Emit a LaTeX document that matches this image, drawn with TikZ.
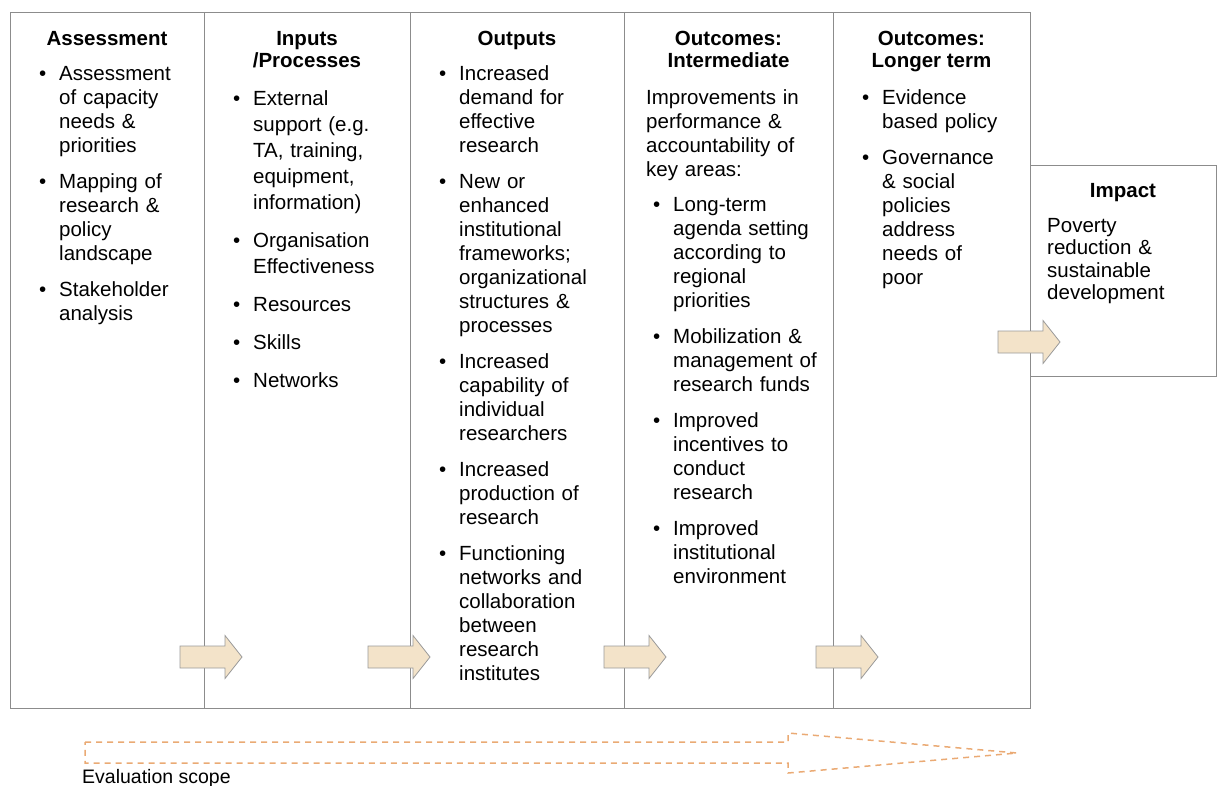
\documentclass[tikz,border=0pt]{standalone}
\usepackage{fontspec}
\setmainfont{Liberation Sans}
\usepackage{enumitem}
\usetikzlibrary{positioning}

\definecolor{linegray}{HTML}{8C8C8C}
\definecolor{arrowfill}{HTML}{F3E3C9}
\definecolor{arrowline}{HTML}{9A9A9A}
\definecolor{scopeorange}{HTML}{EAAA74}

\newcommand{\colfont}{\fontsize{20.5}{24}\selectfont}
\newcommand{\headfont}{\fontsize{20.5}{22}\selectfont\bfseries}
\setlist[itemize]{label=\textbullet, leftmargin=49pt, labelwidth=36pt,
  labelsep=13pt, align=right, itemsep=12pt, parsep=0pt, topsep=0pt, partopsep=0pt}

\begin{document}
\begin{tikzpicture}[x=1pt,y=-1pt,
colbox/.style={draw=linegray,line width=1.3pt,anchor=north west,minimum height=696pt,inner sep=0pt},
headtxt/.style={anchor=north,align=center,inner sep=0pt,font=\headfont},
listtxt/.style={anchor=north west,inner sep=0pt,text width=#1,align=left,font=\colfont},
fatarrow/.style={draw=arrowline,fill=arrowfill,line width=0.8pt,line join=miter},
evalarrow/.style={draw=scopeorange,line width=1.5pt,dash pattern=on 6pt off 5pt}]
\useasboundingbox (0,0) rectangle (1222,785);

% columns
\node[colbox,minimum width=194pt] (assess) at (10,12) {};
\node[colbox,minimum width=206pt] (inputs) at (204,12) {};
\node[colbox,minimum width=214pt] (outputs) at (410,12) {};
\node[colbox,minimum width=209pt] (inter) at (624,12) {};
\node[colbox,minimum width=197pt] (longer) at (833,12) {};
\node[colbox,minimum width=186pt,minimum height=211pt] (impact) at (1030,165) {};

% headings
\node[headtxt] (hassess) at (107,31) {Assessment};
\node[headtxt] (hinputs) at (307,31) {Inputs\\/Processes};
\node[headtxt] (houtputs) at (517,31) {Outputs};
\node[headtxt] (hinter) at (728.5,31) {Outcomes:\\Intermediate};
\node[headtxt] (hlonger) at (931.5,31) {Outcomes:\\Longer term};
\node[headtxt] (himpact) at (1123,183) {Impact};

% column texts
\node[listtxt=194pt] (lassess) at (10,56.5) {\begin{itemize}
\item Assessment\\of capacity\\needs \&\\priorities
\item Mapping of\\research \&\\policy\\landscape
\item Stakeholder\\analysis
\end{itemize}};
\node[listtxt=206pt] (linputs) at (204,79) {\fontsize{20.5}{26}\selectfont
\begin{itemize}
\item External\\support (e.g.\\TA, training,\\equipment,\\information)
\item Organisation\\Effectiveness
\item Resources
\item Skills
\item Networks
\end{itemize}};
\node[listtxt=214pt] (loutputs) at (410,56.5) {\begin{itemize}
\item Increased\\demand for\\effective\\research
\item New or\\enhanced\\institutional\\frameworks;\\organizational\\structures \&\\processes
\item Increased\\capability of\\individual\\researchers
\item Increased\\production of\\research
\item Functioning\\networks and\\collaboration\\between\\research\\institutes
\end{itemize}};
\node[listtxt=209pt] (linter) at (624,89) {\leftskip=22pt Improvements in\\performance \&\\accountability of\\key areas:\par
\leftskip=0pt
\begin{itemize}[topsep=11pt]
\item Long-term\\agenda setting\\according to\\regional\\priorities
\item Mobilization \&\\management of\\research funds
\item Improved\\incentives to\\conduct\\research
\item Improved\\institutional\\environment
\end{itemize}};
\node[listtxt=197pt] (llonger) at (833,80.5) {\begin{itemize}
\item Evidence\\based policy
\item Governance\\\& social\\policies\\address\\needs of\\poor
\end{itemize}};
\node[listtxt=186pt] (limpact) at (1030,218) {\fontsize{20.5}{22.5}\selectfont
\leftskip=17pt Poverty\\reduction \&\\sustainable\\development\par};

% block arrows across the column borders
\foreach \x/\y in {180/657,368/657,604/657,816/657,998/342}
  \draw[fatarrow] (\x,\y-11) -- ++(45,0) -- ++(0,-10.5) -- ++(17,21.5)
    -- ++(-17,21.5) -- ++(0,-10.5) -- ++(-45,0) -- cycle;

% evaluation scope
\draw[evalarrow] (85,742) -- (788,742) -- (788,733) -- (1017,753)
  -- (788,773) -- (788,763) -- (85,763) -- cycle;
\node[anchor=west,inner sep=0pt,font=\fontsize{19.5}{22}\selectfont] (evalscope) at (82,778) {Evaluation scope};
\end{tikzpicture}
\end{document}
